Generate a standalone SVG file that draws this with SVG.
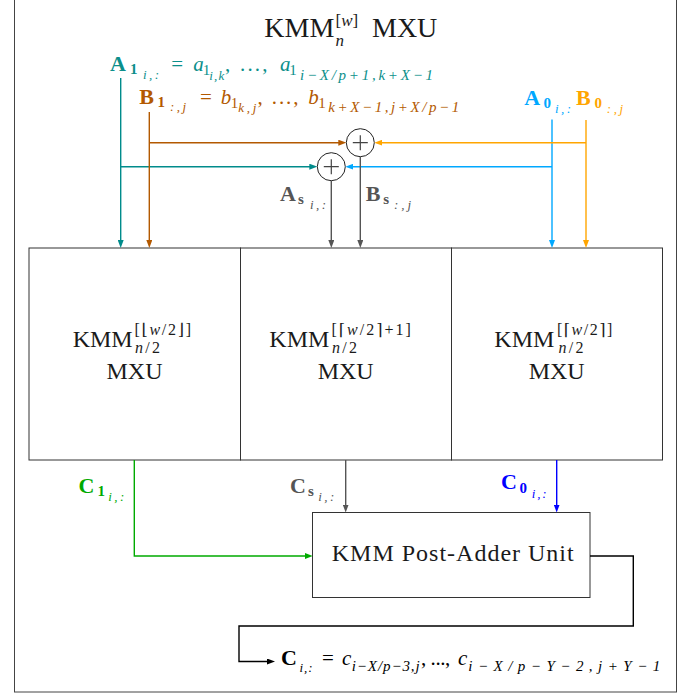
<svg xmlns="http://www.w3.org/2000/svg" width="699" height="696" viewBox="0 0 699 696">
<style>
.t{font-family:"Liberation Serif","Times New Roman","DejaVu Serif",serif;}
.bf{font-weight:bold;}
.it{font-style:italic;}
.box{fill:#fff;stroke:#333;stroke-width:1;}
.ln{fill:none;stroke-width:1.4;}
.teal{stroke:#008b8b;} .brown{stroke:#b35900;} .sky{stroke:#00a8ff;} .orange{stroke:#ffa500;}
.gray{stroke:#555;} .green{stroke:#00aa00;} .blue{stroke:#0000ff;} .black{stroke:#000;}
</style>
<defs>
<marker id="m-teal" markerUnits="userSpaceOnUse" markerWidth="8" markerHeight="6" refX="4" refY="3" orient="auto"><path d="M0,0 L8,3 L0,6 Z" fill="#008b8b"/></marker>
<marker id="m-brown" markerUnits="userSpaceOnUse" markerWidth="8" markerHeight="6" refX="4" refY="3" orient="auto"><path d="M0,0 L8,3 L0,6 Z" fill="#b35900"/></marker>
<marker id="m-sky" markerUnits="userSpaceOnUse" markerWidth="8" markerHeight="6" refX="4" refY="3" orient="auto"><path d="M0,0 L8,3 L0,6 Z" fill="#00a8ff"/></marker>
<marker id="m-orange" markerUnits="userSpaceOnUse" markerWidth="8" markerHeight="6" refX="4" refY="3" orient="auto"><path d="M0,0 L8,3 L0,6 Z" fill="#ffa500"/></marker>
<marker id="m-gray" markerUnits="userSpaceOnUse" markerWidth="8" markerHeight="6" refX="4" refY="3" orient="auto"><path d="M0,0 L8,3 L0,6 Z" fill="#555"/></marker>
<marker id="m-green" markerUnits="userSpaceOnUse" markerWidth="8" markerHeight="6" refX="4" refY="3" orient="auto"><path d="M0,0 L8,3 L0,6 Z" fill="#00aa00"/></marker>
<marker id="m-blue" markerUnits="userSpaceOnUse" markerWidth="8" markerHeight="6" refX="4" refY="3" orient="auto"><path d="M0,0 L8,3 L0,6 Z" fill="#0000ff"/></marker>
<marker id="m-black" markerUnits="userSpaceOnUse" markerWidth="8" markerHeight="6" refX="4" refY="3" orient="auto"><path d="M0,0 L8,3 L0,6 Z" fill="#000"/></marker>
</defs>
<rect width="699" height="696" fill="#fff"/>
<rect id="frame" x="14.5" y="-10" width="662" height="702" fill="none" stroke="#444" stroke-width="1"/>

<g id="title">
<text class="t" font-size="28" fill="#1a1a1a"><tspan x="264.3" y="37">KMM</tspan><tspan x="335.5" y="26" font-size="17">[<tspan class="it">w</tspan>]</tspan><tspan x="335.5" y="46" font-size="17" class="it">n</tspan><tspan x="372" y="37">MXU</tspan></text>
</g>

<g id="mxu-left">
<rect class="box" x="29" y="248" width="211.5" height="212"/>
<text class="t" font-size="24" fill="#1a1a1a"><tspan x="72.7" y="347">KMM</tspan><tspan x="134.5" y="335" font-size="16" letter-spacing="1.7">[⌊<tspan class="it">w</tspan>/2⌋]</tspan><tspan x="135" y="353" font-size="16" letter-spacing="2.3"><tspan class="it">n</tspan>/2</tspan></text>
<text class="t" font-size="24" fill="#1a1a1a" x="134.5" y="378.5" text-anchor="middle">MXU</text>
</g>

<g id="mxu-middle">
<rect class="box" x="240.5" y="248" width="211" height="212"/>
<text class="t" font-size="24" fill="#1a1a1a"><tspan x="269.3" y="347">KMM</tspan><tspan x="331.5" y="335" font-size="16" letter-spacing="2">[⌈<tspan class="it">w</tspan>/2⌉+1]</tspan><tspan x="332" y="353" font-size="16" letter-spacing="2.3"><tspan class="it">n</tspan>/2</tspan></text>
<text class="t" font-size="24" fill="#1a1a1a" x="345.7" y="378.5" text-anchor="middle">MXU</text>
</g>

<g id="mxu-right">
<rect class="box" x="451.5" y="248" width="211" height="212"/>
<text class="t" font-size="24" fill="#1a1a1a"><tspan x="557" y="335" font-size="16" letter-spacing="1.5">[⌈<tspan class="it">w</tspan>/2⌉]</tspan><tspan x="558.5" y="353" font-size="16" letter-spacing="2.3"><tspan class="it">n</tspan>/2</tspan><tspan x="494.3" y="347">KMM</tspan></text>
<text class="t" font-size="24" fill="#1a1a1a" x="556.7" y="378.5" text-anchor="middle">MXU</text>
</g>

<g id="post-adder">
<rect class="box" x="312.5" y="512.5" width="277.5" height="85"/>
<text class="t" font-size="24" fill="#1a1a1a" x="331.7" y="560.7" textLength="242">KMM Post-Adder Unit</text>
</g>

<g id="adder-a">
<circle cx="331.3" cy="166.7" r="14" fill="#fff" stroke="#222" stroke-width="1"/>
<path d="M323.8,166.7 H338.8 M331.3,159.2 V174.2" stroke="#444" stroke-width="1.2"/>
</g>
<g id="adder-b">
<circle cx="360.3" cy="142.7" r="14" fill="#fff" stroke="#222" stroke-width="1"/>
<path d="M352.8,142.7 H367.8 M360.3,135.2 V150.2" stroke="#444" stroke-width="1.2"/>
</g>

<g id="connectors">
<path class="ln teal" d="M120.7,78 V244" marker-end="url(#m-teal)"/>
<path class="ln teal" d="M120.7,166.7 H313.3" marker-end="url(#m-teal)"/>
<path class="ln brown" d="M149.3,112 V244" marker-end="url(#m-brown)"/>
<path class="ln brown" d="M149.3,142.7 H342.3" marker-end="url(#m-brown)"/>
<path class="ln sky" d="M552,119.5 V244" marker-end="url(#m-sky)"/>
<path class="ln sky" d="M552,166.7 H349.3" marker-end="url(#m-sky)"/>
<path class="ln orange" d="M586,120 V244" marker-end="url(#m-orange)"/>
<path class="ln orange" d="M586,142.7 H378.3" marker-end="url(#m-orange)"/>
<path class="ln gray" d="M331.3,180.7 V244" marker-end="url(#m-gray)"/>
<path class="ln gray" d="M360.3,156.7 V244" marker-end="url(#m-gray)"/>
<path class="ln green" d="M134.3,460 V556 H308.7" marker-end="url(#m-green)"/>
<path class="ln gray" d="M345.7,460 V508.5" marker-end="url(#m-gray)"/>
<path class="ln blue" d="M556.7,460 V508.5" marker-end="url(#m-blue)"/>
<path class="ln black" stroke-width="1.8" d="M590,556 H633.3 V626 H239 V661.5 H271" marker-end="url(#m-black)"/>
</g>

<g id="label-a1" fill="#0b8f8b">
<text class="t" font-size="21"><tspan x="110" y="71" class="bf" font-size="22">A</tspan><tspan x="130" y="73.5" font-size="15" class="bf">1</tspan><tspan x="143" y="78.5" font-size="13" class="it" textLength="16">i,:</tspan><tspan x="171.3" y="71">=</tspan><tspan x="193.3" y="71" class="it">a</tspan><tspan x="202.7" y="74.5" font-size="15">1</tspan><tspan x="209.3" y="79.5" font-size="13" class="it" textLength="15">i,k</tspan><tspan x="225" y="71" textLength="50">, ..., </tspan><tspan x="280" y="71" class="it">a</tspan><tspan x="289.3" y="74.5" font-size="15">1</tspan><tspan x="300" y="79.5" font-size="15" class="it" textLength="133">i−X/p+1,k+X−1</tspan></text>
</g>

<g id="label-b1" fill="#b35900">
<text class="t" font-size="21"><tspan x="139.3" y="104" class="bf" font-size="22">B</tspan><tspan x="157.5" y="106.5" font-size="15" class="bf">1</tspan><tspan x="170" y="110.5" font-size="13" class="it" textLength="16">:,j</tspan><tspan x="199.9" y="104">=</tspan><tspan x="220.7" y="104" class="it">b</tspan><tspan x="230.7" y="107.5" font-size="15">1</tspan><tspan x="238.3" y="111.5" font-size="13" class="it" textLength="18">k,j</tspan><tspan x="257.5" y="104" textLength="48">, ..., </tspan><tspan x="308.3" y="104" class="it">b</tspan><tspan x="318.3" y="107.5" font-size="15">1</tspan><tspan x="328.3" y="111.5" font-size="15" class="it" textLength="131">k+X−1,j+X/p−1</tspan></text>
</g>

<g id="label-a0" fill="#00a8ff">
<text class="t" font-size="22"><tspan x="524.3" y="105" class="bf">A</tspan><tspan x="543.5" y="108" font-size="15" class="bf">0</tspan><tspan x="555" y="113" font-size="13" class="it" textLength="16">i,:</tspan></text>
</g>
<g id="label-b0" fill="#ffa500">
<text class="t" font-size="22"><tspan x="576" y="105" class="bf">B</tspan><tspan x="594.5" y="108" font-size="15" class="bf">0</tspan><tspan x="606.7" y="113" font-size="13" class="it" textLength="16.5">:,j</tspan></text>
</g>

<g id="label-as" fill="#555">
<text class="t" font-size="22"><tspan x="280" y="200.7" class="bf">A</tspan><tspan x="298" y="204" font-size="15" class="bf">s</tspan><tspan x="310" y="208.5" font-size="13" class="it" textLength="16">i,:</tspan></text>
</g>
<g id="label-bs" fill="#555">
<text class="t" font-size="22"><tspan x="365.7" y="200.7" class="bf">B</tspan><tspan x="383.3" y="204" font-size="15" class="bf">s</tspan><tspan x="394" y="208.5" font-size="13" class="it" textLength="17">:,j</tspan></text>
</g>

<g id="label-c1" fill="#00aa00">
<text class="t" font-size="22"><tspan x="78.5" y="492.7" class="bf">C</tspan><tspan x="97.5" y="496" font-size="15" class="bf">1</tspan><tspan x="108.3" y="501" font-size="13" class="it" textLength="16">i,:</tspan></text>
</g>
<g id="label-cs" fill="#555">
<text class="t" font-size="22"><tspan x="290" y="492.7" class="bf">C</tspan><tspan x="308" y="496" font-size="15" class="bf">s</tspan><tspan x="318.3" y="501" font-size="13" class="it" textLength="16">i,:</tspan></text>
</g>
<g id="label-c0" fill="#0000ff">
<text class="t" font-size="22"><tspan x="501" y="489.3" class="bf">C</tspan><tspan x="519.5" y="492.5" font-size="15" class="bf">0</tspan><tspan x="531.7" y="497.5" font-size="13" class="it" textLength="15">i,:</tspan></text>
</g>

<g id="label-c" fill="#000">
<text class="t" font-size="21"><tspan x="281" y="665" class="bf" font-size="22">C</tspan><tspan x="299.5" y="671.5" font-size="13" class="it" textLength="13">i,:</tspan><tspan x="322" y="665">=</tspan><tspan x="342" y="665" class="it">c</tspan><tspan x="351.7" y="671" font-size="15" class="it" textLength="68">i−X/p−3,j</tspan><tspan x="421" y="665" textLength="34">, ..., </tspan><tspan x="458" y="665" class="it">c</tspan><tspan x="468.3" y="671" font-size="15" class="it" textLength="192">i−X/p−Y−2,j+Y−1</tspan></text>
</g>
</svg>
